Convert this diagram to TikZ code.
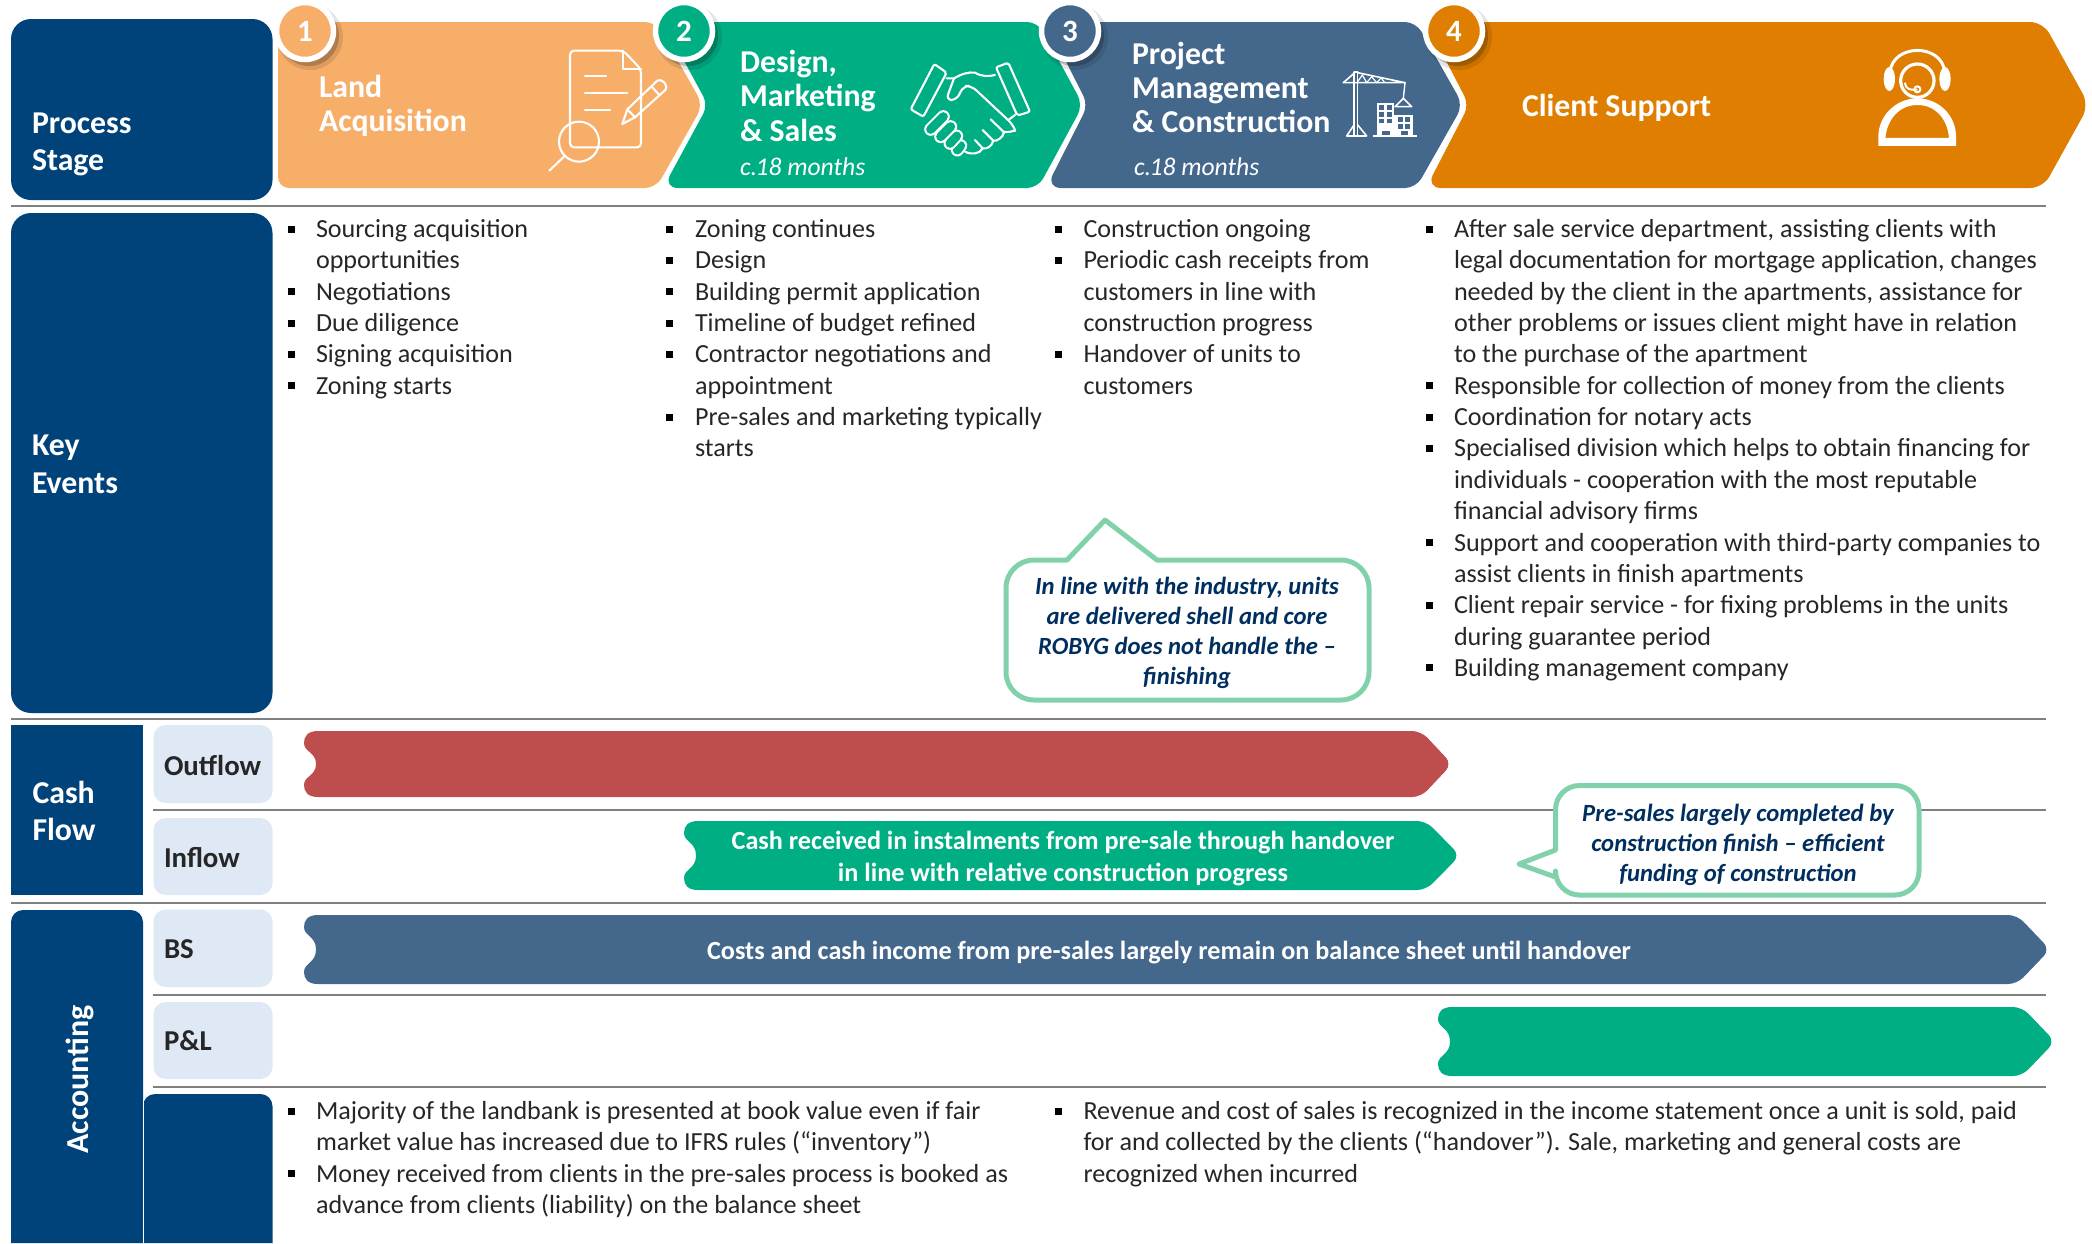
\documentclass[tikz,border=0pt]{standalone}
\usepackage{fontspec}
\setmainfont{Carlito}
\usetikzlibrary{calc}
\definecolor{navy}{HTML}{00437A}
\definecolor{peach}{HTML}{F7AE69}
\definecolor{teal1}{HTML}{00AE84}
\definecolor{slate}{HTML}{44688C}
\definecolor{amber}{HTML}{DF7E00}
\definecolor{paleblue}{HTML}{DEE9F5}
\definecolor{brick}{HTML}{BE4D4E}
\definecolor{mint}{HTML}{81D2AB}
\definecolor{inkblue}{HTML}{002F5F}
\definecolor{bodyink}{HTML}{262626}
\definecolor{rulegray}{HTML}{808080}
\newcommand\bodyfont{\fontsize{26.1}{31.35}\selectfont}
\newcommand\headfont{\fontsize{31.8}{34.4}\selectfont\bfseries}
\newcommand\sidefont{\fontsize{31.8}{37.5}\selectfont\bfseries}
\newcommand\tagfont{\fontsize{28.8}{34}\selectfont\bfseries}
\newcommand\barfont{\fontsize{26.2}{32}\selectfont\bfseries}
\newcommand\notefont{\fontsize{24.7}{30}\selectfont\bfseries\itshape}
\newcommand\lbl[5]{\node[lblbase,#4] (#1) at (#2,{(#3)-30}) {\rule{0pt}{30pt}#5};}
\newcommand\bitem[5]{\node[bulletsq] (#1b) at (#2,{(#4)-8.5}) {};
  \node[lblbase,anchor=north west,align=left,font=\bodyfont,text=bodyink] (#1) at (#3,{(#4)-30}) {\rule{0pt}{30pt}#5};}
% colour, left x, shoulder x, tip x, top y, bottom y
\newcommand\flowbar[6]{%
  \pgfmathsetmacro\fa{#2+14}\pgfmathsetmacro\fb{#2+12}\pgfmathsetmacro\fm{(#5+#6)/2}%
  \pgfmathsetmacro\fu{#5+12}\pgfmathsetmacro\fd{#6-12}%
  \pgfmathsetmacro\fuc{#5+21}\pgfmathsetmacro\fdc{#6-21}%
  \pgfmathsetmacro\ftc{#5+5}\pgfmathsetmacro\fbc{#6-5}%
  \pgfmathsetmacro\fx{#2+4}%
  \fill[#1] (\fa,#5) [rounded corners=9pt] -- (#3,#5) -- (#4,\fm) -- (#3,#6) [sharp corners] -- (\fa,#6)
    .. controls (\fx,#6) and (#2,\fbc) .. (#2,\fd)
    .. controls (#2,\fdc) and (\fb,\fdc) .. (\fb,\fm)
    .. controls (\fb,\fuc) and (#2,\fuc) .. (#2,\fu)
    .. controls (#2,\ftc) and (\fx,#5) .. (\fa,#5) -- cycle;}
\tikzset{
  lblbase/.style={inner sep=0pt,outer sep=0pt},
  lft/.style={anchor=north west,align=left},
  ctr/.style={anchor=north,align=center},
  bulletsq/.style={fill=black,draw=none,minimum size=7pt,inner sep=0pt},
  grule/.style={draw=rulegray,line width=1.7pt},
  ico/.style={draw=white,line width=2.1pt,line cap=round,line join=round},
  note/.style={draw=mint,line width=5pt,fill=white,line join=round},
  numdisc/.style={circle,draw=white,line width=5.5pt,minimum size=57pt,inner sep=0pt,font=\fontsize{31}{36}\selectfont\bfseries,text=white},
  discshadow/.style={circle,fill=black,opacity=.2,draw=none,minimum size=60pt,inner sep=0pt},
  discglow/.style={circle,fill=black,opacity=.1,draw=none,minimum size=66pt,inner sep=0pt},
}
\begin{document}
\begin{tikzpicture}[x=1pt,y=-1pt]
\useasboundingbox (0,0) rectangle (2092,1243);
% left column boxes
\fill[navy,rounded corners=20pt] (11,19) rectangle (272.5,200);
\fill[navy,rounded corners=20pt] (11,213) rectangle (272.5,713);
\fill[navy] (11,725) rectangle (143,895);
\fill[navy] (11,1243) [rounded corners=12pt] -- (11,910) -- (143,910) [sharp corners] -- (143,1243) -- cycle;
\fill[navy] (143,1243) [rounded corners=12pt] -- (143,1094) -- (272.5,1094) [sharp corners] -- (272.5,1243) -- cycle;
\draw[white,line width=.5pt] (143,1100) -- (143,1243);
\fill[paleblue,rounded corners=12pt] (153.5,725) rectangle (272.5,803);
\fill[paleblue,rounded corners=12pt] (153.5,818) rectangle (272.5,895);
\fill[paleblue,rounded corners=12pt] (153.5,909.5) rectangle (272.5,987);
\fill[paleblue,rounded corners=12pt] (153.5,1002) rectangle (272.5,1079);
% rules
\draw[grule] (11,206) -- (2046,206);
\draw[grule] (11,719) -- (2046,719);
\draw[grule] (153,810) -- (2046,810);
\draw[grule] (11,903) -- (2046,903);
\draw[grule] (153,995) -- (2046,995);
\draw[grule] (153,1087) -- (2046,1087);
% process chevrons
\fill[peach,rounded corners=11pt] (278,22) -- (656,22) -- (703,105) -- (656,188) -- (278,188) -- cycle;
\fill[teal1] (800,188) [rounded corners=15pt] -- (663,188) [rounded corners=10pt] -- (708,105) -- (663,22) [rounded corners=11pt] -- (1038,22) -- (1083,105) -- (1038,188) [sharp corners] -- (800,188) -- cycle;
\fill[slate] (1200,188) [rounded corners=15pt] -- (1046,188) [rounded corners=10pt] -- (1088,105) -- (1046,22) [rounded corners=11pt] -- (1416,22) -- (1463,105) -- (1416,188) [sharp corners] -- (1200,188) -- cycle;
\fill[amber] (1600,188) [rounded corners=15pt] -- (1426,188) [rounded corners=10pt] -- (1469,105) -- (1426,22) [rounded corners=13pt] -- (2043,22) -- (2089,105) -- (2043,188) [sharp corners] -- (1600,188) -- cycle;
% discs
\foreach \dx/\dn in {305/s1,684/s2,1070/s3,1454/s4}{
  \node[discglow] (\dn g) at (\dx+5,37) {};
  \node[discshadow] (\dn) at (\dx+4,36) {};
}
\node[numdisc,fill=peach] (n1) at (305,31) {1};
\node[numdisc,fill=teal1] (n2) at (684,31) {2};
\node[numdisc,fill=slate] (n3) at (1070,31) {3};
\node[numdisc,fill=amber] (n4) at (1454,31) {4};
% flow bars
\flowbar{brick}{304}{1421}{1452}{731}{797}
\flowbar{teal1}{684}{1426}{1460}{821}{890}
\flowbar{slate}{304}{2017}{2050}{915}{984}
\flowbar{teal1}{1438}{2022}{2055}{1007}{1076}
% callouts
\path[note] (1067,560) -- (1105,520) -- (1157,560) [rounded corners=28pt] -- (1369,560) -- (1369,700) -- (1006,700) -- (1006,560) [sharp corners] -- (1067,560) -- cycle;
\path[note] (1555.5,850) [rounded corners=24pt] -- (1555.5,785.5) -- (1919,785.5) -- (1919,895) -- (1555.5,895) [sharp corners] -- (1555.5,877) -- (1519,864) -- (1555.5,850) -- cycle;
% ---- side labels
\lbl{lProc}{32}{133}{lft,font=\sidefont,text=white}{Process\\Stage}
\lbl{lKey}{32}{455.5}{lft,font=\sidefont,text=white}{Key\\Events}
\lbl{lCash}{32.5}{803}{lft,font=\sidefont,text=white}{Cash\\Flow}
\node[inner sep=0pt,rotate=90,font=\fontsize{32}{36}\selectfont\bfseries,text=white] (lAcc) at (79.5,1079.5) {Accounting};
\lbl{lOut}{164}{775}{lft,font=\tagfont,text=bodyink}{Outflow}
\lbl{lIn}{164}{867}{lft,font=\tagfont,text=bodyink}{Inflow}
\lbl{lBS}{164}{958.5}{lft,font=\tagfont,text=bodyink}{BS}
\lbl{lPL}{164}{1050.5}{lft,font=\tagfont,text=bodyink}{P\&L}
% ---- chevron labels
\lbl{t1}{319}{97.5}{lft,font=\headfont,text=white}{Land\\Acquisition}
\lbl{t2}{740}{72.5}{lft,font=\headfont,text=white}{Design,\\Marketing\\\&\ Sales}
\lbl{t2b}{740}{175}{lft,font=\fontsize{25.6}{30}\selectfont\itshape,text=white}{c.\kern-1.5pt 18 months}
\lbl{t3}{1132}{64}{lft,font=\headfont,text=white}{Project\\Management\\\&\ Construction}
\lbl{t3b}{1134}{175}{lft,font=\fontsize{25.6}{30}\selectfont\itshape,text=white}{c.\kern-1.5pt 18 months}
\lbl{t4}{1522}{116}{lft,font=\headfont,text=white}{Client Support}
% ---- bullets
\bitem{a1}{291}{316}{237.5}{Sourcing acquisition\\opportunities}
\bitem{a2}{291}{316}{237.5+31.35*2}{Negotiations}
\bitem{a3}{291}{316}{237.5+31.35*3}{Due diligence}
\bitem{a4}{291}{316}{237.5+31.35*4}{Signing acquisition}
\bitem{a5}{291}{316}{237.5+31.35*5}{Zoning starts}
\bitem{b1}{669}{695}{237.5}{Zoning continues}
\bitem{b2}{669}{695}{237.5+31.35}{Design}
\bitem{b3}{669}{695}{237.5+31.35*2}{Building permit application}
\bitem{b4}{669}{695}{237.5+31.35*3}{Timeline of budget refined}
\bitem{b5}{669}{695}{237.5+31.35*4}{Contractor negotiations and\\appointment}
\bitem{b6}{669}{695}{237.5+31.35*6}{Pre-sales and marketing typically\\starts}
\bitem{c1}{1058}{1083.5}{237.5}{Construction ongoing}
\bitem{c2}{1058}{1083.5}{237.5+31.35}{Periodic cash receipts from\\customers in line with\\construction progress}
\bitem{c3}{1058}{1083.5}{237.5+31.35*4}{Handover of units to\\customers}
\bitem{d1}{1429}{1454}{237.5}{After sale service department, assisting clients with\\legal documentation for mortgage application, changes\\needed by the client in the apartments, assistance for\\other problems or issues client might have in relation\\to the purchase of the apartment}
\bitem{d2}{1429}{1454}{237.5+31.35*5}{Responsible for collection of money from the clients}
\bitem{d3}{1429}{1454}{237.5+31.35*6}{Coordination for notary acts}
\bitem{d4}{1429}{1454}{237.5+31.35*7}{Specialised division which helps to obtain financing for\\individuals - cooperation with the most reputable\\financial advisory firms}
\bitem{d5}{1429}{1454}{237.5+31.35*10}{Support and cooperation with third-party companies to\\assist clients in finish apartments}
\bitem{d6}{1429}{1454}{237.5+31.35*12}{Client repair service - for fixing problems in the units\\during guarantee period}
\bitem{d7}{1429}{1454}{237.5+31.35*14}{Building management company}
\bitem{e1}{291}{316}{1119.5}{Majority of the landbank is presented at book value even if fair\\market value has increased due to IFRS rules (“inventory”)}
\bitem{e2}{291}{316}{1119.5+62.7}{Money received from clients in the pre-sales process is booked as\\advance from clients (liability) on the balance sheet}
\bitem{f1}{1058}{1083.5}{1119.5}{Revenue and cost of sales is recognized in the income statement once a unit is sold, paid\\for and collected by the clients (“handover”). Sale, marketing and general costs are\\recognized when incurred}
% ---- bar texts
\lbl{bar1}{1063}{849}{ctr,font=\barfont,text=white}{Cash received in instalments from pre-sale through handover\\in line with relative construction progress}
\lbl{bar2}{1169}{959}{ctr,font=\barfont,text=white}{Costs and cash income from pre-sales largely remain on balance sheet until handover}
% ---- callout texts
\lbl{call1}{1187}{594.5}{ctr,font=\notefont,text=inkblue}{In line with the industry, units\\are delivered shell and core\\ROBYG does not handle the --\\finishing}
\lbl{call2}{1738}{821}{ctr,font=\notefont,text=inkblue}{Pre-sales largely completed by\\construction finish -- efficient\\funding of construction}
% ---- document icon
\begin{scope}[shift={(540,40)},x=0.3333pt,y=-0.3333pt]
\draw[ico,rounded corners=4pt] (90,32) -- (250,32) -- (303,88) -- (303,322) -- (90,322) -- cycle;
\draw[ico] (250,32) -- (250,88) -- (303,88);
\draw[ico] (135,108) -- (198,108) (135,160) -- (262,160) (135,211) -- (210,211);
\draw[ico] (247,252) -- (262,208) -- (352,122) .. controls (372,115) and (385,140) .. (376,150) -- (285,232) -- cycle;
\draw[ico] (335,140) -- (358,165) (262,208) -- (285,232);
\draw[ico] (117,305) circle (60);
\draw[ico] (72,350) -- (28,392);
\end{scope}
% ---- handshake icon
\begin{scope}[shift={(900,50)},x=0.3333pt,y=-0.3333pt]
\draw[ico,rounded corners=2pt] (103,42) -- (140,68) -- (70,200) -- (32,178) -- cycle;
\draw[ico,rounded corners=2pt] (288,52) -- (325,38) -- (390,185) -- (352,197) -- cycle;
\draw[ico] (140,85) -- (162,85) .. controls (185,72) and (205,65) .. (225,68) .. controls (245,80) and (265,80) .. (285,75);
\draw[ico,rounded corners=6pt] (162,85) -- (138,150) -- (170,150) -- (190,108) -- (215,108) -- (340,225) .. controls (345,240) and (325,250) .. (310,245);
\draw[ico] (345,195) -- (325,210);
\draw[ico] (272,208) -- (312,247) .. controls (310,262) and (290,275) .. (280,272) -- (248,240);
\draw[ico] (280,272) .. controls (275,290) and (260,298) .. (248,295) -- (225,270);
\draw[ico] (248,295) .. controls (240,312) and (215,315) .. (195,305);
\foreach \ax/\ay/\bx/\by/\nm in {172/300/182/287/d, 150/280/170/258/c, 122/260/152/230/b, 92/238/130/200/a}{
  \draw[white,line width=13pt,line cap=round] (\ax,\ay) -- (\bx,\by);
  \draw[teal1,line width=9pt,line cap=round] (\ax,\ay) -- (\bx,\by);
}
\end{scope}
% ---- crane icon
\begin{scope}[shift={(1335,60)},x=0.3333pt,y=-0.3333pt]
\draw[ico,line width=1.6pt] (57,36) -- (68,36) (57,36) -- (57,228) (68,36) -- (68,228);
\draw[ico,line width=1.6pt] (25,68) -- (210,68) (68,38) -- (210,68);
\draw[ico,line width=1.2pt] (68,65) -- (82,45) -- (95,68) -- (110,50) -- (125,68) -- (138,54) -- (150,68);
\draw[ico,line width=1.6pt] (25,68) -- (57,40);
\draw[ico,line width=1.6pt] (35,228) -- (57,195) (68,195) -- (95,228) (35,228) -- (95,228);
\draw[ico,line width=1.4pt] (210,68) -- (205,115);
\draw[ico,line width=1.6pt] (205,115) -- (180,140) -- (230,140) -- cycle;
\fill[white] (125,128) rectangle (178,228);
\fill[white] (178,165) rectangle (235,228);
\fill[white] (115,224) rectangle (245,231);
\foreach \wx in {133,155}{\foreach \wy in {136,156,176}{\fill[slate] (\wx,\wy) rectangle +(15,14);}}
\foreach \wx in {188,210}{\foreach \wy in {172,193}{\fill[slate] (\wx,\wy) rectangle +(15,14);}}
\fill[slate] (140,213) rectangle (165,224);
\fill[slate] (197,213) rectangle (220,224);
\end{scope}
% ---- headset icon
\begin{scope}[shift={(1860,40)},x=0.3333pt,y=-0.3333pt]
\draw[white,line width=3.2pt] (172,122) circle [x radius=50,y radius=50];
\draw[white,line width=3pt] (90,95) .. controls (100,10) and (245,10) .. (254,95);
\fill[white] (88,117) ellipse [x radius=17,y radius=36];
\fill[white] (255,117) ellipse [x radius=17,y radius=36];
\draw[white,line width=2pt] (135,128) .. controls (138,150) and (150,150) .. (172,149);
\draw[white,line width=2pt] (172,148) circle [radius=9];
\fill[white,even odd rule] (55,318) -- (55,290) .. controls (55,225) and (110,175) .. (172,175) .. controls (235,175) and (288,225) .. (288,290) -- (288,318) -- cycle
 (76,294) -- (267,294) .. controls (262,235) and (225,195) .. (172,195) .. controls (120,195) and (82,235) .. (76,294) -- cycle;
\end{scope}
\end{tikzpicture}
\end{document}
